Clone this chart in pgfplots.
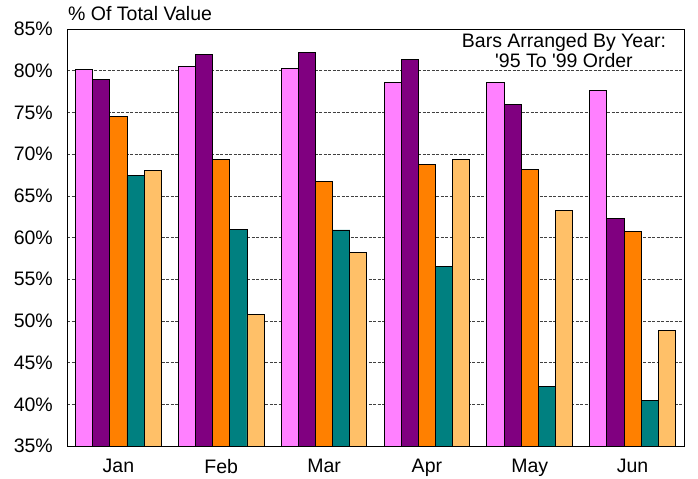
\documentclass[border=0pt]{standalone}
\usepackage{pgfplots}
\usepackage{pgfplotstable}
\pgfplotsset{compat=1.18}
\usepackage{fontspec}
\setmainfont{Liberation Sans}
\definecolor{cPink}{HTML}{FF80FF}
\definecolor{cPurple}{HTML}{800080}
\definecolor{cOrange}{HTML}{FF8000}
\definecolor{cTeal}{HTML}{008080}
\definecolor{cLight}{HTML}{FFC068}
\pgfplotstableread{
x y95 y96 y97 y98 y99
0 80.1 79.0 74.5 67.4 68.0
1 80.5 82.0 69.4 61.0 50.8
2 80.3 82.2 66.7 60.9 58.2
3 78.6 81.3 68.7 56.5 69.3
4 78.6 75.9 68.1 42.1 63.2
5 77.6 62.3 60.7 40.5 48.8
}\datatable
\begin{document}
\begin{tikzpicture}
\useasboundingbox (-67bp,-33bp) rectangle (631bp,446bp);
\begin{axis}[
  name=ax,
  at={(0,0)}, anchor=south west,
  scale only axis,
  width=617bp, height=417bp,
  xmin=-0.5, xmax=5.5,
  ymin=35, ymax=85,
  ybar=0pt,
  bar width=17.14bp,
  xtick=data,
  xticklabels={Jan,Feb,Mar,Apr,May,Jun},
  ytick={35,40,45,50,55,60,65,70,75,80,85},
  yticklabel={\pgfmathprintnumber{\tick}\%},
  /pgf/number format/assume math mode=true,
  major tick length=0pt,
  ymajorgrids,
  major grid style={black!75, dash pattern=on 3bp off 1.5bp, line width=0.6bp},
  axis line style={black, line width=1bp},
  tick label style={font=\fontsize{19.5bp}{22bp}\selectfont, inner sep=0pt},
  yticklabel style={anchor=east, xshift=-14bp},
  xticklabel style={anchor=north, yshift=-13bp},
  every axis plot/.append style={draw=black, line width=0.9bp},
  clip=true,
]
\addplot[fill=cPink] table[x=x,y=y95]{\datatable};
\addplot[fill=cPurple] table[x=x,y=y96]{\datatable};
\addplot[fill=cOrange] table[x=x,y=y97]{\datatable};
\addplot[fill=cTeal] table[x=x,y=y98]{\datatable};
\addplot[fill=cLight] table[x=x,y=y99]{\datatable};
\node[anchor=north, align=center, inner sep=0pt, font=\fontsize{19.5bp}{20.5bp}\selectfont] at (rel axis cs:0.8055,0.990) {Bars Arranged By Year:\\\textquotesingle 95 To \textquotesingle 99 Order};
\end{axis}
\node[anchor=base west, inner sep=0pt, font=\fontsize{19.5bp}{22bp}\selectfont] at ([xshift=1bp,yshift=9bp]ax.north west) {\% Of Total Value};
\end{tikzpicture}
\end{document}
